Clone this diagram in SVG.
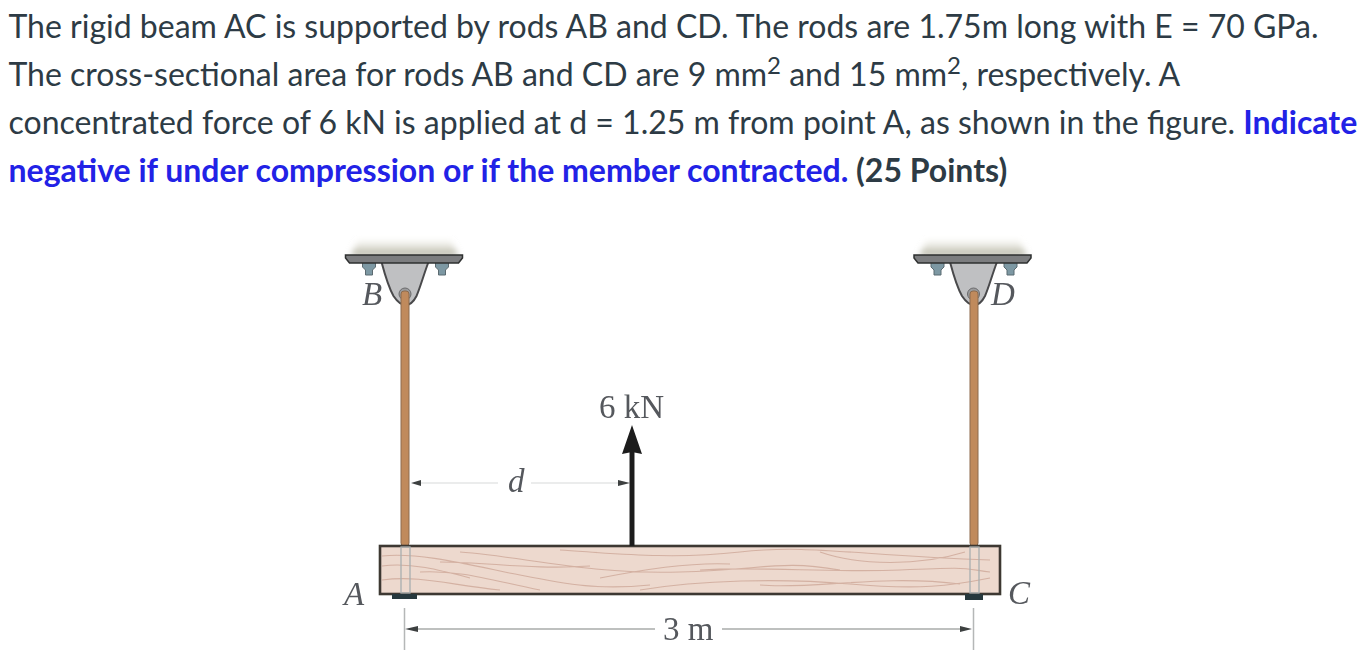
<svg xmlns="http://www.w3.org/2000/svg" width="1370" height="666" viewBox="0 0 1370 666">
<style>
.t{font-family:Lato,"Liberation Sans",sans-serif;font-size:32px;fill:#2d3b45}
.b{font-weight:700;fill:#2222e6}
.d{font-weight:700}
.l{font-family:"Liberation Serif",serif;font-size:33px;fill:#55585d}
.i{font-style:italic}
.dim{stroke:#a9acab;stroke-width:1.6;fill:none}
.tick{stroke:#b5b7b7;stroke-width:1.5;fill:none}
.ah{fill:#3c3f40}
.grain{fill:none;stroke:#c9a090;stroke-width:1.1;opacity:.7}
.sup{fill:#bfc0c2;stroke:#4a4a4c;stroke-width:2}
.plate{fill:#7b7d7f;stroke:#2f3030;stroke-width:1.5}
.bolt{fill:#7d98a3;stroke:#5b6a70;stroke-width:1}
.rod{fill:#c08a5c;stroke:#8c6a4c;stroke-width:1}
.inner{stroke:#a8aeb0;stroke-width:1.3;fill:none}
</style>
<defs>
<linearGradient id="sh" x1="0" y1="0" x2="0" y2="1"><stop offset="0" stop-color="#e6e5d8" stop-opacity=".2"/><stop offset="1" stop-color="#a8a795"/></linearGradient>
<filter id="s" x="-10%" y="-30%" width="120%" height="160%"><feGaussianBlur stdDeviation="3"/></filter>
<filter id="f" x="-5%" y="-5%" width="110%" height="110%"><feGaussianBlur stdDeviation=".6"/></filter>
<g id="support">
<path d="M-54 1L-46 -15H46L54 1Z" fill="url(#sh)" filter="url(#s)"/>
<path class="bolt" d="M-42 7h13v5l-3 3v5h-7v-5l-3-3zM31 7h13v5l-3 3v5h-7v-5l-3-3z"/>
<path class="sup" d="M-23 7C-19 22-15 34-11 41C-7 47-3 50 1 50C5 50 9 47 12 41C16 32 19 20 24 7Z"/>
<circle cx="0.500" cy="39" r="6" fill="#9a9b9d" stroke="#6a6a6c" stroke-width="1"/>
<path class="plate" d="M-59 0H58V3L54 8H-55L-59 3Z"/>
</g>
</defs>
<g id="question">
<text class="t" x="8.500" y="38">The rigid beam AC is supported by rods AB and CD. The rods are 1.75m long with E = 70 GPa.</text>
<text class="t" x="8.500" y="86">The cross-sectional area for rods AB and CD are 9 mm<tspan font-size="24" dy="-12">2</tspan><tspan dy="12"> and 15 mm</tspan><tspan font-size="24" dy="-12">2</tspan><tspan dy="12">, respectively. A</tspan></text>
<text class="t" x="8.500" y="134">concentrated force of 6 kN is applied at d = 1.25 m from point A, as shown in the figure. <tspan class="b">Indicate</tspan></text>
<text class="t" x="8.500" y="182"><tspan class="b">negative if under compression or if the member contracted.</tspan><tspan class="d"> (25 Points)</tspan></text>
</g>
<g filter="url(#f)">
<g id="support-B"><use href="#support" x="404.500" y="255"/></g>
<g id="support-D"><use href="#support" x="973" y="255"/></g>
<g id="rod-AB"><rect class="rod" x="401" y="291" width="8" height="255" rx="3"/></g>
<g id="rod-CD"><rect class="rod" x="970" y="291" width="8" height="255" rx="3"/></g>
<g id="beam">
<rect x="380" y="546" width="620" height="48" fill="#edd9ce" stroke="#3d3733" stroke-width="2.600"/>
<path class="grain" d="M382 556C420 552 470 565 520 575S600 590 650 585M420 572C460 570 490 580 540 590M382 580C420 575 450 585 500 590M460 552C520 556 590 575 680 572S780 560 840 570M560 550C610 553 670 560 740 552S860 556 990 560M640 590C700 580 780 578 850 584S950 586 990 578M700 570C760 566 830 573 900 570S960 568 990 572M440 562C490 562 530 570 590 566M382 566C410 562 440 570 470 578M600 578C640 570 690 562 730 564M760 585C810 590 880 574 960 584M820 552C860 566 920 566 965 552"/>
<rect x="401" y="547" width="9" height="46" class="inner"/>
<rect x="970" y="547" width="9" height="46" class="inner"/>
</g>
<g id="washer-A"><rect x="392" y="594" width="25" height="5" fill="#25393c"/></g>
<g id="washer-C"><rect x="965" y="594" width="18" height="6" fill="#25393c"/></g>
<g id="labels">
<text class="l i" x="344" y="605">A</text>
<text class="l i" x="362" y="305">B</text>
<text class="l i" x="991" y="305">D</text>
<text class="l i" x="1008" y="604">C</text>
<text class="l" x="599" y="418">6 kN</text>
<text class="l i" x="508" y="492">d</text>
<text class="l" x="663" y="640">3 m</text>
</g>
<g id="connectors">
<path class="dim" stroke-opacity=".3" d="M420 483H498M531 483H618"/>
<path class="dim" d="M415 629H655M722 629H962"/>
<path class="tick" d="M404.500 608V650M973.500 608V650"/>
<path class="ah" d="M411 483L421 480V486ZM630 483L618 480V486ZM405 629L418 626V632ZM972 629L960 626V632Z"/>
<path d="M632 546V452" stroke="#1f1f1f" stroke-width="5" fill="none"/>
<path d="M632 425L642 454L632 452L622 454Z" fill="#1f1f1f"/>
</g>
</g>
</svg>
